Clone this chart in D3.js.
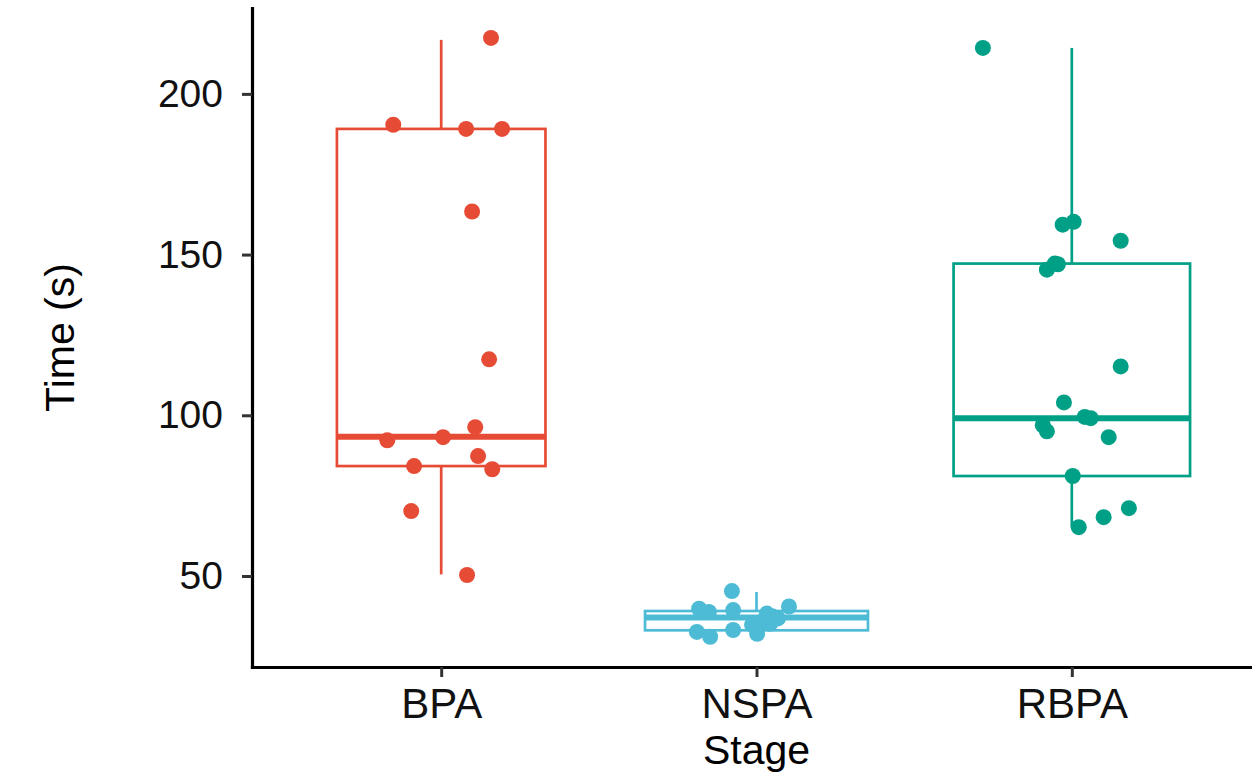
<!DOCTYPE html>
<html>
<head>
<meta charset="utf-8">
<script src="https://cdn.jsdelivr.net/npm/d3@7"></script>
<style>
  body { margin: 0; background: #fff; }
  text { font-family: "Liberation Sans", Arial, sans-serif; }
</style>
</head>
<body>
<div id="chart"></div>
<script>
// categories and colours (ggsci npg)
var stages = ["BPA", "NSPA", "RBPA"];
var colors = ["#E64B35", "#4DBBD5", "#00A087"];

// box summaries
var whiskerLow = [50.5, 31.0, 65.2];
var q1 = [84.2, 33.1, 81.1];
var median = [93.3, 37.1, 99.1];
var q3 = [189.1, 39.1, 147.2];
var whiskerHigh = [216.8, 45.0, 214.3];

// jittered points: time value and horizontal offset (category units)
var bpaTime = [217.4, 190.4, 189.1, 189.1, 163.4, 117.4, 96.3, 93.2, 92.2, 87.3, 84.2, 83.2, 70.2, 50.3];
var bpaJitter = [0.158, -0.152, 0.079, 0.193, 0.098, 0.152, 0.108, 0.006, -0.171, 0.117, -0.086, 0.162, -0.095, 0.082];

var nspaTime = [45.3, 39.8, 38.8, 39.4, 38.3, 40.5, 36.8, 32.6, 31.1, 33.2, 32.0, 34.2, 35.1, 36.0, 34.8, 37.5];
var nspaJitter = [-0.078, -0.182, -0.151, -0.074, 0.033, 0.103, 0.068, -0.189, -0.147, -0.074, 0.002, 0.005, 0.043, 0.021, -0.014, 0.049];

var rbpaTime = [214.3, 160.2, 159.3, 154.3, 147.2, 145.3, 115.2, 104.0, 99.1, 96.9, 95.0, 93.2, 81.1, 71.1, 68.3, 65.2, 99.5, 147.0];
var rbpaJitter = [-0.282, 0.006, -0.029, 0.155, -0.054, -0.079, 0.155, -0.025, 0.060, -0.092, -0.079, 0.117, 0.003, 0.181, 0.101, 0.022, 0.041, -0.044];

var yTicks = [50, 100, 150, 200];

var svgWidth = 1252;
var svgHeight = 773;

var plot = { left: 252, right: 1261, top: 8, bottom: 667 };

var svg = d3.select("#chart")
  .append("svg")
  .attr("width", svgWidth)
  .attr("height", svgHeight)
  .style("display", "block");

svg.append("rect")
  .attr("width", svgWidth)
  .attr("height", svgHeight)
  .attr("fill", "#fff");

// build one table of points and one of boxes
var groupTimes = [bpaTime, nspaTime, rbpaTime];
var groupJitter = [bpaJitter, nspaJitter, rbpaJitter];

var points = [];
groupTimes.forEach(function(times, i) {
  times.forEach(function(t, j) {
    points.push({ stage: stages[i], time: t, jitter: groupJitter[i][j], color: colors[i] });
  });
});

var maxN = d3.max(groupTimes, d => d.length);
var boxes = stages.map(function(s, i) {
  return {
    stage: s, color: colors[i], n: groupTimes[i].length,
    lo: whiskerLow[i], q1: q1[i], med: median[i], q3: q3[i], hi: whiskerHigh[i]
  };
});

// scales
var allValues = points.map(d => d.time).concat(whiskerLow, whiskerHigh);
var yMin = d3.min(allValues);
var yMax = d3.max(allValues);
var pad = (yMax - yMin) * 0.05;

var yScale = d3.scaleLinear()
  .domain([yMin - pad, yMax + pad])
  .range([plot.bottom, plot.top]);

var xScale = d3.scalePoint()
  .domain(stages)
  .range([plot.left, plot.right])
  .padding(0.6);

var step = xScale.step();

// boxes (varwidth style)
var boxGroup = svg.append("g");

boxes.forEach(function(b) {
  var cx = xScale(b.stage);
  var half = 0.75 * step * Math.sqrt(b.n / maxN) / 2;
  var g = boxGroup.append("g")
    .attr("stroke", b.color)
    .attr("fill", "none");

  // whiskers
  g.append("line")
    .attr("x1", cx).attr("x2", cx)
    .attr("y1", yScale(b.q3)).attr("y2", yScale(b.hi))
    .attr("stroke-width", 2.7);
  g.append("line")
    .attr("x1", cx).attr("x2", cx)
    .attr("y1", yScale(b.q1)).attr("y2", yScale(b.lo))
    .attr("stroke-width", 2.7);

  // box
  g.append("rect")
    .attr("x", cx - half)
    .attr("y", yScale(b.q3))
    .attr("width", half * 2)
    .attr("height", yScale(b.q1) - yScale(b.q3))
    .attr("fill", "#fff")
    .attr("stroke-width", 2.7);

  // median
  g.append("line")
    .attr("x1", cx - half).attr("x2", cx + half)
    .attr("y1", yScale(b.med)).attr("y2", yScale(b.med))
    .attr("stroke-width", 6);
});

// jittered points on top
svg.append("g")
  .selectAll("circle")
  .data(points)
  .enter()
  .append("circle")
  .attr("cx", d => xScale(d.stage) + d.jitter * step)
  .attr("cy", d => yScale(d.time))
  .attr("r", 8)
  .attr("fill", d => d.color);

// axes
var leftAxis = d3.axisLeft(yScale)
  .tickValues(yTicks)
  .tickSize(10)
  .tickSizeOuter(0)
  .tickPadding(19);

var bottomAxis = d3.axisBottom(xScale)
  .tickSize(10)
  .tickSizeOuter(0)
  .tickPadding(11);

var yAxis = svg.append("g")
  .attr("transform", `translate(${plot.left}, 0)`)
  .call(leftAxis);

var xAxis = svg.append("g")
  .attr("transform", `translate(0, ${plot.bottom})`)
  .call(bottomAxis);

[yAxis, xAxis].forEach(function(ax) {
  ax.select(".domain")
    .attr("stroke", "#000")
    .attr("stroke-width", 3.2)
    .attr("stroke-linecap", "square");
  ax.selectAll(".tick line")
    .attr("stroke", "#333")
    .attr("stroke-width", 3);
  ax.selectAll(".tick text")
    .attr("fill", "#111")
    .style("font-family", "Liberation Sans, Arial, sans-serif");
});

yAxis.selectAll(".tick text").style("font-size", "39px");
xAxis.selectAll(".tick text").style("font-size", "42px");

// axis titles
svg.append("text")
  .attr("transform", `translate(74, ${(plot.top + plot.bottom) / 2}) rotate(-90)`)
  .attr("text-anchor", "middle")
  .style("font-size", "41px")
  .attr("fill", "#000")
  .text("Time (s)");

svg.append("text")
  .attr("x", xScale("NSPA"))
  .attr("y", 764)
  .attr("text-anchor", "middle")
  .style("font-size", "41px")
  .attr("fill", "#000")
  .text("Stage");
</script>
</body>
</html>
